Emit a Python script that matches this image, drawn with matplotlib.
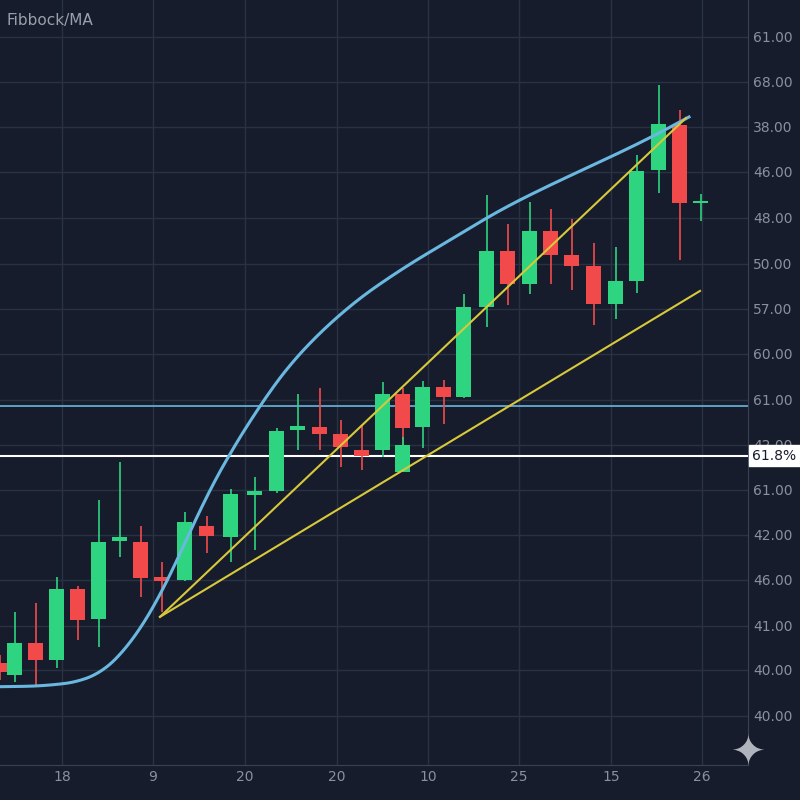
import matplotlib
matplotlib.use("Agg")
import matplotlib.pyplot as plt
import numpy as np

# candle data (day position, and price levels on chart scale)
xs = [0, 15, 36, 57, 78, 99, 120, 141, 162, 185, 207, 231, 255, 277, 298, 320, 341, 362,
      383, 403, 403, 423, 444, 464, 487, 508, 530, 551, 572, 594, 616, 637, 659, 680, 701]
o_px = [663, 675, 643, 660, 589, 619, 541, 542, 577, 580, 526, 537, 495, 491, 430, 427, 434, 450,
        450, 394, 472, 427, 387, 397, 307, 251, 284, 231, 255, 266, 304, 281, 170, 125, 203]
c_px = [672, 643, 660, 589, 620, 542, 537, 578, 581, 522, 536, 494, 491, 431, 426, 434, 447, 456,
        394, 428, 445, 387, 397, 307, 251, 284, 231, 255, 266, 304, 281, 171, 124, 203, 202]
h_px = [655, 612, 603, 577, 586, 500, 462, 526, 562, 512, 516, 489, 477, 428, 394, 388, 420, 425,
        382, 388, 437, 381, 380, 294, 195, 224, 202, 209, 219, 243, 247, 155, 85, 110, 194]
l_px = [680, 682, 686, 668, 640, 647, 557, 597, 612, 581, 553, 562, 550, 493, 450, 450, 467, 470,
        457, 457, 472, 448, 424, 398, 327, 305, 294, 284, 290, 325, 319, 293, 193, 260, 221]
opens = 800 - np.array(o_px)
closes = 800 - np.array(c_px)
highs = 800 - np.array(h_px)
lows = 800 - np.array(l_px)

ma_x = [0, 50, 90, 110, 130, 145, 160, 180, 200, 220, 240, 260, 280, 300, 350, 400, 450, 500, 550, 600, 650, 689]
ma_y = 800 - np.array([687, 686, 680, 668, 645, 622, 598, 555, 508, 470, 437, 405, 377, 352, 305, 270, 240, 210, 185, 162, 138, 117])

ytick_pos = 800 - np.array([37, 82, 127, 172, 218, 264, 309, 354, 400, 445, 490, 535, 580, 626, 670, 716])
ytick_lab = ["61.00", "68.00", "38.00", "46.00", "48.00", "50.00", "57.00", "60.00", "61.00", "42.00",
             "61.00", "42.00", "46.00", "41.00", "40.00", "40.00"]
xtick_pos = [62, 153, 245, 337, 428, 519, 611, 702]
xtick_lab = ["18", "9", "20", "20", "10", "25", "15", "26"]

bg = "#161c2c"
fig = plt.figure(figsize=(8, 8), dpi=100, facecolor=bg)
ax = fig.add_axes([0, 0.044, 0.935, 0.956], facecolor=bg)
ax.set_xlim(0, 748)
ax.set_ylim(35, 800)

green, red = "#2ed47f", "#f24a4a"
for x, o, c, h, l in zip(xs, opens, closes, highs, lows):
    col = green if c >= o else red
    ax.vlines(x, l, h, color=col, lw=1.2, zorder=3)
    b = max(abs(c - o), 2)
    ax.bar(x, b, bottom=min(o, c), width=15, color=col, zorder=4)

# smooth the MA polyline for display
fx = np.linspace(ma_x[0], ma_x[-1], 700)
fy = np.interp(fx, ma_x, ma_y)
k = 25
pad = np.concatenate([np.full(k, fy[0]), fy, fy[-1] + (fy[-1] - fy[-k-1:-1][::-1])])
sy = np.convolve(pad, np.ones(2 * k + 1) / (2 * k + 1), mode="same")[k:-k]
ax.plot(fx, sy, color="#6ab8e0", lw=2.2, zorder=5)
ax.plot([160, 686], [800 - 617, 800 - 118], color="#d8c93a", lw=1.5, zorder=5)
ax.plot([160, 700], [800 - 617, 800 - 291], color="#d8c93a", lw=1.5, zorder=5)
ax.axhline(800 - 406, color="#6ab8e0", lw=1.2, zorder=2)
ax.axhline(800 - 456, color="white", lw=1.5, zorder=2)

ax.set_yticks(ytick_pos)
ax.set_yticklabels(ytick_lab)
ax.set_xticks(xtick_pos)
ax.set_xticklabels(xtick_lab)
ax.yaxis.tick_right()
ax.tick_params(colors="#8a909c", labelsize=10, length=0)
ax.grid(True, color="#2a3142", lw=1)
for s in ["top", "left"]:
    ax.spines[s].set_visible(False)
for s in ["right", "bottom"]:
    ax.spines[s].set_color("#3a4152")

ax.text(752, 800 - 456, "61.8%", transform=ax.transData, color="#161c2c", fontsize=10,
        va="center", ha="left", clip_on=False,
        bbox=dict(boxstyle="square,pad=0.25", fc="white", ec="white"), zorder=10)
fig.text(0.008, 0.975, "Fibbock/MA", color="#9aa0ab", fontsize=11, va="center")
fig.text(0.935, 0.058, "\u2726", color="#b0b4bc", fontsize=30, ha="center", va="center")

fig.savefig("out.png", dpi=100, facecolor=bg)
